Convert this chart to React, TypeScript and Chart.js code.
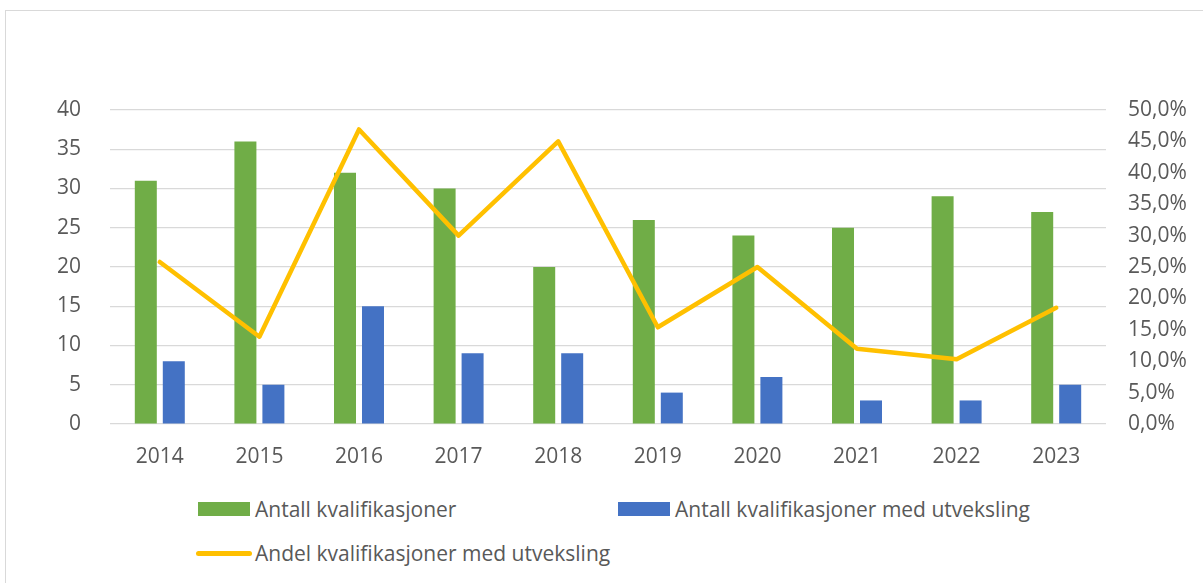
import React, { useEffect, useRef } from "react";
import { Chart, registerables } from "chart.js";
Chart.register(...registerables);

const categories = ["2014", "2015", "2016", "2017", "2018", "2019", "2020", "2021", "2022", "2023"];
const antallKvalifikasjoner = [31, 36, 32, 30, 20, 26, 24, 25, 29, 27];
const antallMedUtveksling = [8, 5, 15, 9, 9, 4, 6, 3, 3, 5];
const andelMedUtveksling = [25.8, 13.9, 46.9, 30.0, 45.0, 15.4, 25.0, 12.0, 10.3, 18.5];
const leftAxisMax = 40;
const leftAxisStep = 5;
const rightAxisMax = 50;
const rightAxisStep = 5;

const seriesNames = [
  "Antall kvalifikasjoner",
  "Antall kvalifikasjoner med utveksling",
  "Andel kvalifikasjoner med utveksling",
];

const GREEN = "#70AD47";
const BLUE = "#4472C4";
const YELLOW = "#FFC000";
const TEXT = "#595959";
const GRID = "#D9D9D9";
const FONT = "'Open Sans', 'Noto Sans', sans-serif";
const FONT_SIZE = 21;

export default function App() {
  const canvasRef = useRef<HTMLCanvasElement | null>(null);

  useEffect(() => {
    const canvas = canvasRef.current;
    if (!canvas) return;
    const chart = new Chart(canvas, {
      data: {
        labels: categories,
        datasets: [
          {
            type: "line",
            label: seriesNames[2],
            data: andelMedUtveksling,
            yAxisID: "y1",
            borderColor: YELLOW,
            backgroundColor: YELLOW,
            borderWidth: 4.5,
            pointRadius: 0,
            tension: 0,
            borderCapStyle: "round",
            borderJoinStyle: "round",
            order: 0,
          },
          {
            type: "bar",
            label: seriesNames[0],
            data: antallKvalifikasjoner,
            yAxisID: "y",
            backgroundColor: GREEN,
            categoryPercentage: 0.562,
            barPercentage: 0.786,
            order: 1,
          },
          {
            type: "bar",
            label: seriesNames[1],
            data: antallMedUtveksling,
            yAxisID: "y",
            backgroundColor: BLUE,
            categoryPercentage: 0.562,
            barPercentage: 0.786,
            order: 1,
          },
        ],
      } as any,
      options: {
        animation: false,
        responsive: false,
        maintainAspectRatio: false,
        layout: { padding: { top: 110, left: 0, right: 0, bottom: 0 } },
        plugins: {
          legend: { display: false },
          tooltip: { enabled: false },
          title: { display: false },
        },
        scales: {
          x: {
            grid: { display: false, drawTicks: false },
            border: { display: false },
            ticks: {
              color: TEXT,
              font: { family: FONT, size: FONT_SIZE },
              padding: 20,
              maxRotation: 0,
            },
            afterFit: (s: any) => {
              s.height = 66;
            },
          },
          y: {
            position: "left",
            min: 0,
            max: leftAxisMax,
            grid: { color: GRID, lineWidth: 1.2, drawTicks: false },
            border: { display: false },
            ticks: {
              stepSize: leftAxisStep,
              color: TEXT,
              font: { family: FONT, size: FONT_SIZE },
              padding: 29,
            },
            afterFit: (s: any) => {
              s.width = 110;
            },
          },
          y1: {
            position: "right",
            min: 0,
            max: rightAxisMax,
            grid: { display: false, drawTicks: false },
            border: { display: false },
            ticks: {
              stepSize: rightAxisStep,
              color: TEXT,
              font: { family: FONT, size: FONT_SIZE },
              padding: 22,
              callback: (v: any) => Number(v).toFixed(1).replace(".", ",") + "%",
            },
            afterFit: (s: any) => {
              s.width = 97;
            },
          },
        },
      } as any,
    });
    return () => chart.destroy();
  }, []);

  const legendText: React.CSSProperties = {
    position: "absolute",
    fontFamily: FONT,
    fontSize: FONT_SIZE,
    color: TEXT,
    lineHeight: "24px",
    whiteSpace: "nowrap",
  };

  return (
    <div
      style={{
        position: "fixed",
        left: 0,
        top: 0,
        width: 1203,
        height: 583,
        overflow: "hidden",
        background: "#fff",
      }}
    >
      <div
        style={{
          position: "absolute",
          left: 5,
          top: 10,
          width: 1300,
          height: 700,
          border: "1.5px solid " + GRID,
          boxSizing: "border-box",
        }}
      />
      <canvas
        ref={canvasRef}
        width={1203}
        height={490}
        style={{ position: "absolute", left: 0, top: 0, width: 1203, height: 490 }}
      />
      <div style={{ position: "absolute", left: 198, top: 502, width: 52, height: 14, background: GREEN }} />
      <div style={{ ...legendText, left: 255, top: 497 }}>{seriesNames[0]}</div>
      <div style={{ position: "absolute", left: 618, top: 502, width: 52, height: 14, background: BLUE }} />
      <div style={{ ...legendText, left: 675, top: 497 }}>{seriesNames[1]}</div>
      <div
        style={{
          position: "absolute",
          left: 196,
          top: 551,
          width: 56,
          height: 5,
          borderRadius: 3,
          background: YELLOW,
        }}
      />
      <div style={{ ...legendText, left: 255, top: 541 }}>{seriesNames[2]}</div>
    </div>
  );
}
